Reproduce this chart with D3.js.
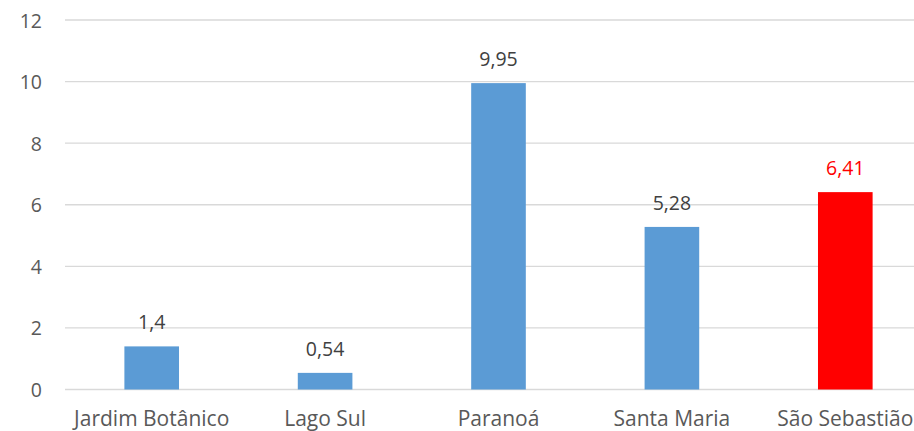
<!DOCTYPE html>
<html><head><meta charset="utf-8">
<script src="https://cdn.jsdelivr.net/npm/d3@7"></script>
<style>body{margin:0;background:#fff;} svg{display:block;}</style>
</head><body>
<svg id="chart" width="914" height="431"></svg>
<script>
const categories = ["Jardim Botânico", "Lago Sul", "Paranoá", "Santa Maria", "São Sebastião"];
const values = [1.4, 0.54, 9.95, 5.28, 6.41];
const valueLabels = ["1,4", "0,54", "9,95", "5,28", "6,41"];
const highlight = [false, false, false, false, true];
const yTicks = [0, 2, 4, 6, 8, 10, 12];

const svg = d3.select("#chart");
const font = "'Open Sans', sans-serif";
const fsNum = 19.5;
const fsCat = 21;
const x = d3.scaleBand().domain(categories).range([65, 932]).paddingInner(0.685).paddingOuter(0.3425);
const y = d3.scaleLinear().domain([0, 12]).range([389.5, 20]);

const grid = svg.append("g");
grid.selectAll("line").data(yTicks).join("line")
  .attr("x1", 65).attr("x2", 914)
  .attr("y1", d => y(d)).attr("y2", d => y(d))
  .attr("stroke", "#d9d9d9").attr("stroke-width", 1.3);

const yAxis = d3.axisLeft(y).tickValues(yTicks).tickSize(0).tickPadding(0).tickFormat(d3.format("d"));
const ya = svg.append("g").attr("transform", "translate(42,0)").call(yAxis);
ya.select(".domain").remove();
ya.selectAll("text").attr("font-family", font).attr("font-size", fsNum).attr("fill", "#595959").attr("dy", "0.36em");

const bars = svg.append("g");
bars.selectAll("rect").data(values).join("rect")
  .attr("x", (d, i) => x(categories[i]))
  .attr("width", x.bandwidth())
  .attr("y", d => y(d))
  .attr("height", d => y(0) - y(d))
  .attr("fill", (d, i) => highlight[i] ? "#ff0000" : "#5b9bd5");

svg.append("g").selectAll("text").data(values).join("text")
  .attr("x", (d, i) => x(categories[i]) + x.bandwidth() / 2)
  .attr("y", d => y(d) - 17)
  .attr("text-anchor", "middle")
  .attr("font-family", font).attr("font-size", fsNum)
  .attr("fill", (d, i) => highlight[i] ? "#ff0000" : "#404040")
  .text((d, i) => valueLabels[i]);

const xAxis = d3.axisBottom(x).tickSize(0).tickPadding(0);
const xa = svg.append("g").attr("transform", "translate(0,389.5)").call(xAxis);
xa.select(".domain").remove();
xa.selectAll("text").attr("font-family", font).attr("font-size", fsCat).attr("fill", "#595959").attr("y", 0).attr("dy", "36px");
</script>
</body></html>
